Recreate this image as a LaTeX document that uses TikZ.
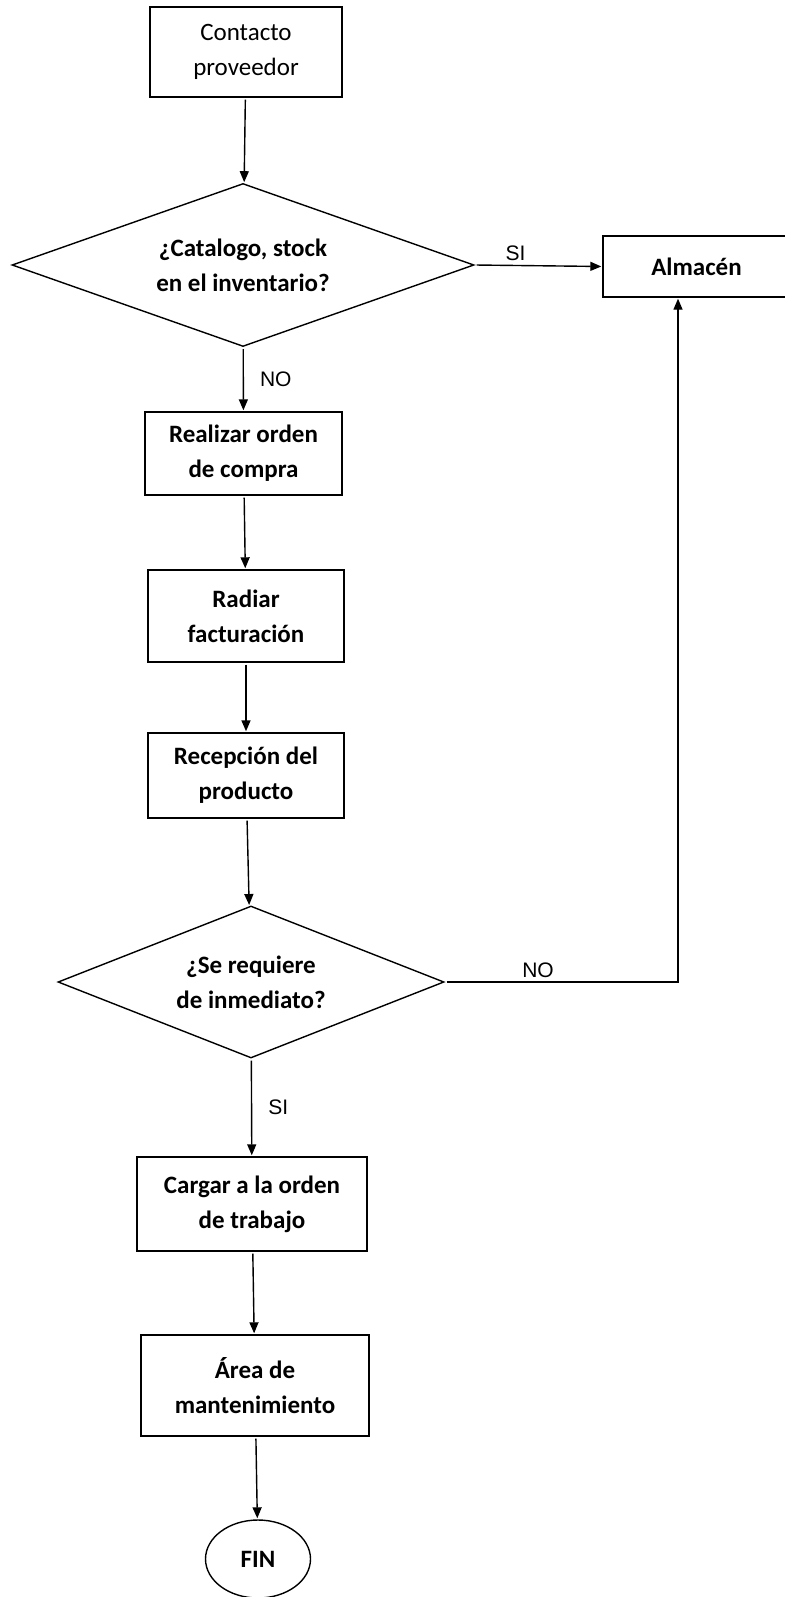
\documentclass[tikz,border=0pt]{standalone}
\usepackage{fontspec}
\setmainfont{Carlito}
\newfontfamily\tagfont{Liberation Sans}
\usetikzlibrary{arrows.meta,shapes.geometric}
\tikzset{
    box/.style =    {rectangle,
                    fill=white,
                    draw=black,
                    text=black,
                    line width=1.4pt,
                    align=center,
                    inner sep=0pt,
                    font=\fontsize{25}{35}\selectfont\bfseries},
    choice/.style = {diamond,
                    fill=white,
                    draw=black,
                    text=black,
                    line width=1.4pt,
                    align=center,
                    aspect=2.8,
                    inner sep=0pt,
                    font=\fontsize{25}{35}\selectfont\bfseries},
    stop/.style =   {ellipse,
                    fill=white,
                    draw=black,
                    text=black,
                    line width=1.4pt,
                    inner sep=0pt,
                    font=\fontsize{25}{35}\selectfont\bfseries},
    tag/.style =    {text=black,
                    inner sep=4pt,
                    font=\tagfont\fontsize{21}{24}\selectfont},
    flow/.style =   {line width=1.4pt,
                    shorten >= 1pt,
                    shorten <= 2pt},
    >={Triangle[length=11pt,width=9pt]}}

\begin{document}
\begin{tikzpicture}[x=1pt,y=-1pt]
    \useasboundingbox (0,0) rectangle (784,1597);
                    \node[box, minimum width=192pt, minimum height=90pt,
                          font=\fontsize{25}{35}\selectfont]  (cp)  at (246,52)     {Contacto\\proveedor};
                    \node[choice, minimum width=462pt, minimum height=163pt] (inv) at (243,265)  {¿Catalogo, stock\\en el inventario?};
                    \node[box, minimum width=187pt, minimum height=61pt]  (alm) at (696.5,266.5) {Almacén};
                    \node[box, minimum width=197pt, minimum height=83pt]  (oc)  at (243.5,453.5) {Realizar orden\\de compra};
                    \node[box, minimum width=196pt, minimum height=92pt]  (rf)  at (246,616)    {Radiar\\facturación};
                    \node[box, minimum width=196pt, minimum height=85pt]  (rp)  at (246,775.5)  {Recepción del\\producto};
                    \node[choice, minimum width=386pt, minimum height=152pt] (inm) at (251,982)  {¿Se requiere\\de inmediato?};
                    \node[box, minimum width=230pt, minimum height=94pt]  (ot)  at (252,1204)   {Cargar a la orden\\de trabajo};
                    \node[box, minimum width=228pt, minimum height=101pt] (am)  at (255,1385.5) {Área de\\mantenimiento};
                    \node[stop, minimum width=105pt, minimum height=78pt] (fin) at (258,1559)   {FIN};

                    \path [flow,->] (cp) edge (inv)
                                    (inv.east) edge node [tag, above, pos=0.32] {SI} (alm.west)
                                    (inv) edge node [tag, right=12pt] {NO} (oc)
                                    (oc) edge (rf)
                                    (rf) edge (rp)
                                    (rp) edge (inm)
                                    (inm) edge node [tag, right=12pt] {SI} (ot)
                                    (ot) edge (am)
                                    (am) edge (fin);
                    \draw [flow,->] (inm.east) -| node [tag, above, pos=0.2] {NO} ([xshift=-18.5pt]alm.south);
\end{tikzpicture}
\end{document}
